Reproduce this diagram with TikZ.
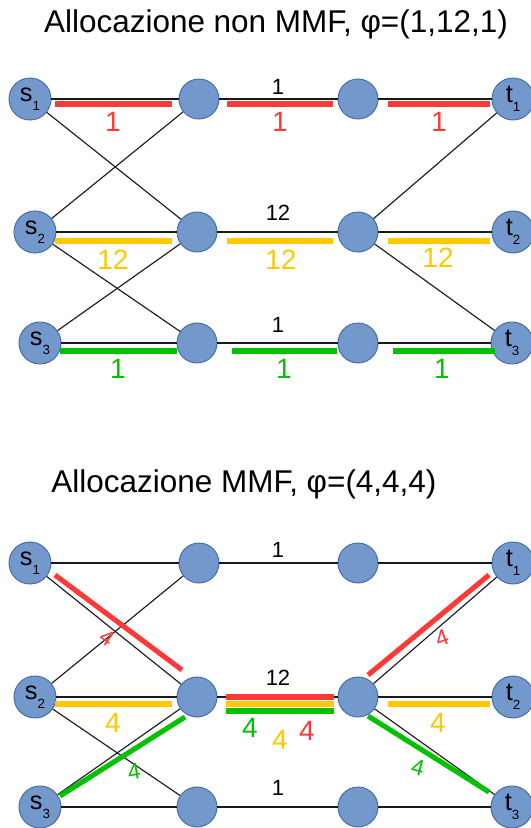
\documentclass[tikz,border=0pt]{standalone}
\usepackage{fontspec}
\setmainfont{Liberation Sans}
\usetikzlibrary{calc}
\definecolor{nodefill}{RGB}{114,152,204}
\definecolor{nodebdr}{RGB}{66,106,165}
\definecolor{edgeclr}{RGB}{25,25,25}
\definecolor{flowred}{RGB}{255,56,56}
\definecolor{flowylw}{RGB}{255,200,0}
\definecolor{flowgrn}{RGB}{0,194,0}
\newcommand{\nsub}[1]{\raisebox{-0.7ex}{\fontsize{10}{10}\selectfont #1}}
\tikzset{
  vtx/.style={circle,draw=nodebdr,fill=nodefill,line width=0.7pt,
    minimum size=30pt,inner sep=0pt},
  endvtx/.style={vtx,minimum size=31.5pt,font=\fontsize{19}{19}\selectfont},
  edg/.style={draw=edgeclr,line width=0.85pt},
  fbar/.style={draw=#1,line width=3.8pt},
  caplbl/.style={font=\fontsize{16.5}{16.5}\selectfont},
  flbl/.style={font=\fontsize{21}{21}\selectfont,text=#1},
  rlbl/.style={font=\fontsize{17}{17}\selectfont,text=#1},
  ttl/.style={font=\fontsize{23.6}{23.6}\selectfont,anchor=base},
}
\begin{document}
\begin{tikzpicture}[x=0.75pt,y=-0.75pt]
  \useasboundingbox (0,0) rectangle (531,828);
  % non MMF allocation
  \node[ttl] (ttla) at (276,32) {Allocazione non MMF, φ=(1,12,1)};
  \node[endvtx] (sa1) at (30,99) {s\nsub{1}};
  \node[vtx] (ma1) at (199,99) {};
  \node[vtx] (na1) at (358,99) {};
  \node[endvtx] (ta1) at (513,99) {t\nsub{1}};
  \node[endvtx] (sa2) at (35,232) {s\nsub{2}};
  \node[vtx] (ma2) at (197,232) {};
  \node[vtx] (na2) at (358,232) {};
  \node[endvtx] (ta2) at (513,232) {t\nsub{2}};
  \node[endvtx] (sa3) at (40,343) {s\nsub{3}};
  \node[vtx] (ma3) at (197,343) {};
  \node[vtx] (na3) at (358,343) {};
  \node[endvtx] (ta3) at (512,343) {t\nsub{3}};
  \draw[edg] (sa1) -- (ma1) -- (na1) -- (ta1);
  \draw[edg] (sa2) -- (ma2) -- (na2) -- (ta2);
  \draw[edg] (sa3) -- (ma3) -- (na3) -- (ta3);
  \draw[edg] (sa1) -- (ma2);
  \draw[edg] (sa2) -- (ma1);
  \draw[edg] (sa2) -- (ma3);
  \draw[edg] (sa3) -- (ma2);
  \draw[edg] (na2) -- (ta1);
  \draw[edg] (na2) -- (ta3);
  \node[caplbl] (ka1) at (278,87) {1};
  \node[caplbl] (ka2) at (278,213) {12};
  \node[caplbl] (ka3) at (278,325) {1};
  % flow 1
  \draw[fbar=flowred] ($(sa1)+(25,5)$) -- ($(ma1)+(-27,5)$);
  \draw[fbar=flowred] ($(ma1)+(28,5)$) -- ($(na1)+(-25,5)$);
  \draw[fbar=flowred] ($(na1)+(30,5)$) -- ($(ta1)+(-23,5)$);
  \node[flbl=flowred] at (113,122) {1};
  \node[flbl=flowred] at (280,122) {1};
  \node[flbl=flowred] at (439,122) {1};
  % flow 2
  \draw[fbar=flowylw] ($(sa2)+(20,9)$) -- ($(ma2)+(-25,9)$);
  \draw[fbar=flowylw] ($(ma2)+(30,9)$) -- ($(na2)+(-25,9)$);
  \draw[fbar=flowylw] ($(na2)+(30,9)$) -- ($(ta2)+(-23,9)$);
  \node[flbl=flowylw] at (113,260) {12};
  \node[flbl=flowylw] at (281,260) {12};
  \node[flbl=flowylw] at (438,258) {12};
  % flow 3
  \draw[fbar=flowgrn] ($(sa3)+(20,8)$) -- ($(ma3)+(-20,8)$);
  \draw[fbar=flowgrn] ($(ma3)+(35,8)$) -- ($(na3)+(-21,8)$);
  \draw[fbar=flowgrn] ($(na3)+(35,8)$) -- ($(ta3)+(-17,8)$);
  \node[flbl=flowgrn] at (118,369) {1};
  \node[flbl=flowgrn] at (284,369) {1};
  \node[flbl=flowgrn] at (442,369) {1};

  % MMF allocation
  \node[ttl] (ttlb) at (244,492) {Allocazione MMF, φ=(4,4,4)};
  \node[endvtx] (sb1) at (30,563) {s\nsub{1}};
  \node[vtx] (mb1) at (199,563) {};
  \node[vtx] (nb1) at (358,563) {};
  \node[endvtx] (tb1) at (513,563) {t\nsub{1}};
  \node[endvtx] (sb2) at (35,697) {s\nsub{2}};
  \node[vtx] (mb2) at (197,697) {};
  \node[vtx] (nb2) at (358,697) {};
  \node[endvtx] (tb2) at (513,697) {t\nsub{2}};
  \node[endvtx] (sb3) at (40,807) {s\nsub{3}};
  \node[vtx] (mb3) at (197,807) {};
  \node[vtx] (nb3) at (358,807) {};
  \node[endvtx] (tb3) at (512,807) {t\nsub{3}};
  \draw[edg] (sb1) -- (mb1) -- (nb1) -- (tb1);
  \draw[edg] (sb2) -- (mb2) -- (nb2) -- (tb2);
  \draw[edg] (sb3) -- (mb3) -- (nb3) -- (tb3);
  \draw[edg] (sb1) -- (mb2);
  \draw[edg] (sb2) -- (mb1);
  \draw[edg] (sb2) -- (mb3);
  \draw[edg] (sb3) -- (mb2);
  \draw[edg] (nb2) -- (tb1);
  \draw[edg] (nb2) -- (tb3);
  \node[caplbl] (kb1) at (278,550) {1};
  \node[caplbl] (kb2) at (278,678) {12};
  \node[caplbl] (kb3) at (278,788) {1};
  % flow 1
  \draw[fbar=flowred] ($(sb1)+(25,12)$) -- ($(mb2)+(-15,-27)$);
  \draw[fbar=flowred] ($(mb2)+(29,0)$) -- ($(nb2)+(-24,0)$);
  \draw[fbar=flowred] ($(nb2)+(10,-22)$) -- ($(tb1)+(-24,12)$);
  \node[rlbl=flowred,rotate=-35] at (107,638) {4};
  \node[flbl=flowred] at (307,731) {4};
  \node[rlbl=flowred,rotate=20] at (442,638) {4};
  % flow 2
  \draw[fbar=flowylw] ($(sb2)+(20,7)$) -- ($(mb2)+(-25,7)$);
  \draw[fbar=flowylw] ($(mb2)+(29,7)$) -- ($(nb2)+(-24,7)$);
  \draw[fbar=flowylw] ($(nb2)+(30,7)$) -- ($(tb2)+(-23,7)$);
  \node[flbl=flowylw] at (113,723) {4};
  \node[flbl=flowylw] at (280,740) {4};
  \node[flbl=flowylw] at (438,723) {4};
  % flow 3
  \draw[fbar=flowgrn] ($(sb3)+(20,-11)$) -- ($(mb2)+(-12,20)$);
  \draw[fbar=flowgrn] ($(mb2)+(29,14)$) -- ($(nb2)+(-24,14)$);
  \draw[fbar=flowgrn] ($(nb2)+(10,19)$) -- ($(tb3)+(-23,-15)$);
  \node[rlbl=flowgrn,rotate=10] at (134,772) {4};
  \node[flbl=flowgrn] at (250,728) {4};
  \node[rlbl=flowgrn,rotate=-15] at (418,768) {4};
\end{tikzpicture}
\end{document}
